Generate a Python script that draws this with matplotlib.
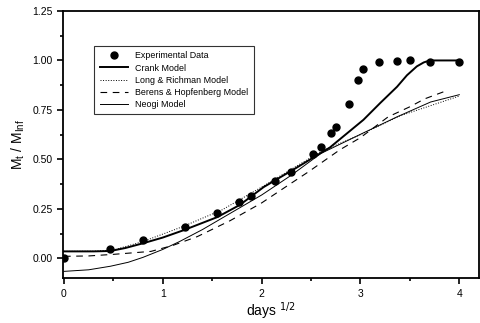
import numpy as np
import matplotlib.pyplot as plt

plt.rcParams['font.family'] = ['Liberation Sans', 'DejaVu Sans']

# experimental points
exp_x = [0.0, 0.47, 0.80, 1.22, 1.55, 1.77, 1.89, 2.14, 2.30, 2.52, 2.60, 2.70, 2.75,
         2.88, 2.97, 3.03, 3.19, 3.37, 3.50, 3.70, 4.00]
exp_y = [0.00, 0.046, 0.091, 0.157, 0.228, 0.284, 0.314, 0.39, 0.436, 0.527, 0.563,
         0.634, 0.664, 0.781, 0.903, 0.958, 0.994, 0.999, 1.00, 0.99, 0.99]

# model curves
crank_x = [0.0, 0.3, 0.47, 0.62, 0.80, 1.0, 1.21, 1.55, 1.78, 2.02, 2.36, 2.69, 3.03,
           3.20, 3.37, 3.47, 3.57, 3.64, 3.70, 4.0]
crank_y = [0.035, 0.035, 0.037, 0.052, 0.076, 0.105, 0.142, 0.208, 0.27, 0.36, 0.46,
           0.56, 0.70, 0.785, 0.867, 0.925, 0.97, 0.99, 1.0, 1.0]

lr_x = [0.0, 0.3, 0.5, 0.8, 1.2, 1.6, 2.0, 2.3, 2.6, 3.0, 3.4, 3.7, 4.0]
lr_y = [0.035, 0.036, 0.042, 0.085, 0.16, 0.245, 0.36, 0.45, 0.54, 0.625, 0.72, 0.77, 0.82]

bh_x = [0.0, 0.25, 0.5, 0.88, 1.1, 1.35, 1.68, 2.0, 2.27, 2.47, 2.79, 3.0, 3.28, 3.5, 3.65, 3.87]
bh_y = [0.01, 0.012, 0.02, 0.035, 0.065, 0.11, 0.19, 0.28, 0.37, 0.436, 0.548, 0.61,
        0.715, 0.766, 0.806, 0.847]

neogi_x = [0.0, 0.25, 0.47, 0.65, 0.80, 1.0, 1.17, 1.4, 1.65, 2.0, 2.3, 2.6, 3.03, 3.37, 3.71, 4.0]
neogi_y = [-0.066, -0.058, -0.04, -0.02, 0.005, 0.045, 0.085, 0.145, 0.218, 0.32, 0.42,
           0.53, 0.634, 0.715, 0.79, 0.827]

fig = plt.figure(figsize=(4.81, 3.23), dpi=100)
ax = fig.add_axes([0.131, 0.139, 0.865, 0.827])

ax.plot(exp_x, exp_y, 'o', color='black', markersize=5, label='Experimental Data', zorder=5)
ax.plot(crank_x, crank_y, '-', color='black', lw=1.4, label='Crank Model')
ax.plot(lr_x, lr_y, ':', color='black', lw=0.7, label='Long & Richman Model')
ax.plot(bh_x, bh_y, '--', color='black', lw=0.8, dashes=(6, 5), label='Berens & Hopfenberg Model')
ax.plot(neogi_x, neogi_y, '-', color='black', lw=0.7, label='Neogi Model')

ax.set_xlim(-0.01, 4.2)
ax.set_ylim(-0.10, 1.25)
ax.set_xticks([0, 1, 2, 3, 4])
ax.set_xticks([0.5, 1.5, 2.5, 3.5], minor=True)
ax.set_yticks([0.0, 0.25, 0.5, 0.75, 1.0, 1.25])
ax.set_yticks([0.125, 0.375, 0.625, 0.875, 1.125], minor=True)
ax.set_yticklabels(['0.00', '0.25', '0.50', '0.75', '1.00', '1.25'])
ax.tick_params(which='both', direction='out', width=1.2, labelsize=7.5)
ax.tick_params(which='major', length=4)
ax.tick_params(which='minor', length=2.5)
for s in ax.spines.values():
    s.set_linewidth(1.3)

ax.set_xlabel('days $^{1/2}$', fontsize=10, labelpad=1)
ax.set_ylabel(r'M$_\mathregular{t}$ / M$_\mathregular{Inf}$', fontsize=10, labelpad=4)

leg = ax.legend(loc='upper left', bbox_to_anchor=(0.065, 0.885), fontsize=6.4,
                frameon=True, fancybox=False, edgecolor='black', handlelength=3.2,
                labelspacing=0.35, borderpad=0.6)
leg.get_frame().set_linewidth(0.8)

plt.savefig('out.png', dpi=100)
